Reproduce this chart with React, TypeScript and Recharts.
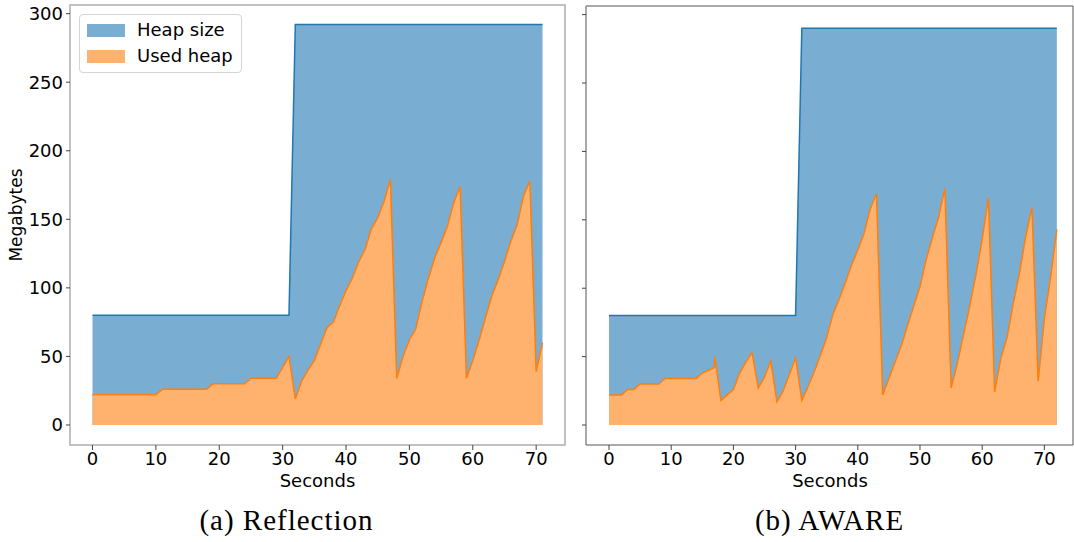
import React from 'react';
import { AreaChart, Area, XAxis, YAxis, ReferenceArea } from 'recharts';

const leftTime = [0,1,2,3,4,5,6,7,8,9,10,11,12,13,14,15,16,17,18,19,20,21,22,23,24,25,26,27,28,29,30,31,32,33,34,35,36,37,38,39,40,41,42,43,44,45,46,47,48,49,50,51,52,53,54,55,56,57,58,59,60,61,62,63,64,65,66,67,68,69,70,71];
const leftHeap = [80,80,80,80,80,80,80,80,80,80,80,80,80,80,80,80,80,80,80,80,80,80,80,80,80,80,80,80,80,80,80,80,292,292,292,292,292,292,292,292,292,292,292,292,292,292,292,292,292,292,292,292,292,292,292,292,292,292,292,292,292,292,292,292,292,292,292,292,292,292,292,292];
const leftUsed = [22,22,22,22,22,22,22,22,22,22,22,26,26,26,26,26,26,26,26,30,30,30,30,30,30,34,34,34,34,34,42,50,19,32,40,47,59,71,75,87,98,107,119,128,143,151,163,179,34,50,62,70,90,107,122,133,145,162,174,34,47,62,78,94,106,119,134,146,167,178,39,60];

const rightTime = [0,1,2,3,4,5,6,7,8,9,10,11,12,13,14,15,16,16.95,17,18,19,20,21,22,23,24,25,26,27,28,29,30,31,32,33,34,35,36,37,38,39,40,41,42,43,44,45,46,47,48,49,50,51,52,53,54,55,56,57,58,59,60,61,62,63,64,65,66,67,68,69,70,71,72];
const rightHeap = [80,80,80,80,80,80,80,80,80,80,80,80,80,80,80,80,80,80,80,80,80,80,80,80,80,80,80,80,80,80,80,80,290,290,290,290,290,290,290,290,290,290,290,290,290,290,290,290,290,290,290,290,290,290,290,290,290,290,290,290,290,290,290,290,290,290,290,290,290,290,290,290,290,290];
const rightUsed = [22,22,22,26,26,30,30,30,30,34,34,34,34,34,34,38,40,42,50,18,22,26,38,46,53,27,35,47,17,25,37,49,18,28,39,51,64,81,92,104,117,128,140,158,169,22,34,46,58,73,87,101,121,137,152,173,27,45,66,87,110,136,166,24,49,64,89,111,138,159,32,78,108,143];

const xTicks = [0, 10, 20, 30, 40, 50, 60, 70];
const yTicks = [0, 50, 100, 150, 200, 250, 300];
const seriesNames = ['Heap size', 'Used heap'];

const leftData = leftTime.map((t, i) => ({ t, heap: leftHeap[i], used: leftUsed[i] }));
const rightData = rightTime.map((t, i) => ({ t, heap: rightHeap[i], used: rightUsed[i] }));

const BLUE_FILL = '#79add2';
const BLUE_LINE = '#1f77b4';
const ORANGE_FILL = '#ffb26e';
const ORANGE_LINE = '#ff7f0e';
const FONT = "'DejaVu Sans', sans-serif";
const tickStyle = { fill: '#000', fontSize: 18, fontFamily: FONT };
const Y_DOMAIN: [number, number] = [-14.6, 306.3];

const LegendBox = () => (
  <div
    style={{
      position: 'absolute',
      left: 79,
      top: 14,
      width: 161,
      height: 57,
      border: '1px solid #d5d5d5',
      borderRadius: 4,
      background: 'rgba(255,255,255,0.85)',
      fontFamily: FONT,
      fontSize: 18,
      color: '#000',
    }}
  >
    {seriesNames.map((n, i) => (
      <div key={n} style={{ position: 'absolute', left: 7, top: 8 + i * 26, height: 14, display: 'flex', alignItems: 'center' }}>
        <div style={{ width: 38, height: 13, background: i === 0 ? BLUE_FILL : ORANGE_FILL }} />
        <span style={{ marginLeft: 12, whiteSpace: 'nowrap', lineHeight: '14px' }}>{n}</span>
      </div>
    ))}
  </div>
);

function Panel({ data, xDomain, width, margin, yWidth, showYLabels, frame, frameWidth }: any) {
  return (
    <AreaChart width={width} height={500} data={data} margin={margin}>
      <XAxis
        dataKey="t"
        type="number"
        domain={xDomain}
        allowDataOverflow
        ticks={xTicks}
        interval={0}
        height={55}
        tick={tickStyle}
        tickSize={5}
        tickMargin={2}
        tickLine={{ stroke: '#444' }}
        axisLine={false}
      />
      <YAxis
        type="number"
        domain={Y_DOMAIN}
        allowDataOverflow
        ticks={yTicks}
        interval={0}
        width={yWidth}
        tick={tickStyle}
        tickFormatter={showYLabels ? undefined : () => ''}
        tickSize={4}
        tickMargin={3}
        tickLine={{ stroke: '#444' }}
        axisLine={false}
      />
      <Area
        dataKey="heap"
        type="linear"
        fill={BLUE_FILL}
        fillOpacity={1}
        stroke={BLUE_LINE}
        strokeWidth={1.5}
        dot={false}
        activeDot={false}
        isAnimationActive={false}
      />
      <Area
        dataKey="used"
        type="linear"
        fill={ORANGE_FILL}
        fillOpacity={1}
        stroke={ORANGE_LINE}
        strokeWidth={1.5}
        dot={false}
        activeDot={false}
        isAnimationActive={false}
      />
      <ReferenceArea
        x1={xDomain[0]}
        x2={xDomain[1]}
        y1={Y_DOMAIN[0]}
        y2={Y_DOMAIN[1]}
        fill="none"
        fillOpacity={0}
        stroke={frame}
        strokeWidth={frameWidth}
        ifOverflow="visible"
      />
    </AreaChart>
  );
}

export default function App() {
  return (
    <div style={{ position: 'absolute', left: 0, top: 0, width: 1074, height: 542, overflow: 'hidden', background: '#fff' }}>
      <div style={{ position: 'absolute', left: 0, top: 0 }}>
        <Panel
          data={leftData}
          xDomain={[-3.55, 74.55]}
          width={580}
          margin={{ top: 5, right: 15, bottom: 0, left: 0 }}
          yWidth={70}
          showYLabels
          frame="#adadad"
          frameWidth={1.5}
        />
      </div>
      <div style={{ position: 'absolute', left: 560, top: 0 }}>
        <Panel
          data={rightData}
          xDomain={[-3.7, 74.6]}
          width={520}
          margin={{ top: 6, right: 7, bottom: 0, left: 0 }}
          yWidth={26}
          showYLabels={false}
          frame="#555"
          frameWidth={1}
        />
      </div>
      <LegendBox />
      <svg width={1074} height={542} style={{ position: 'absolute', left: 0, top: 0, pointerEvents: 'none' }}>
        <text x={22} y={215} transform="rotate(-90 22 215)" textAnchor="middle" fontFamily={FONT} fontSize={17} fill="#000">
          Megabytes
        </text>
        <text x={317.5} y={487} textAnchor="middle" fontFamily={FONT} fontSize={18} fill="#000">
          Seconds
        </text>
        <text x={830} y={487} textAnchor="middle" fontFamily={FONT} fontSize={18} fill="#000">
          Seconds
        </text>
        <text x={286.5} y={530} textAnchor="middle" fontFamily="'Liberation Serif', serif" fontSize={29} letterSpacing={1} fill="#000">
          (a) Reflection
        </text>
        <text x={829.5} y={530} textAnchor="middle" fontFamily="'Liberation Serif', serif" fontSize={29} letterSpacing={1} fill="#000">
          (b) AWARE
        </text>
      </svg>
    </div>
  );
}
